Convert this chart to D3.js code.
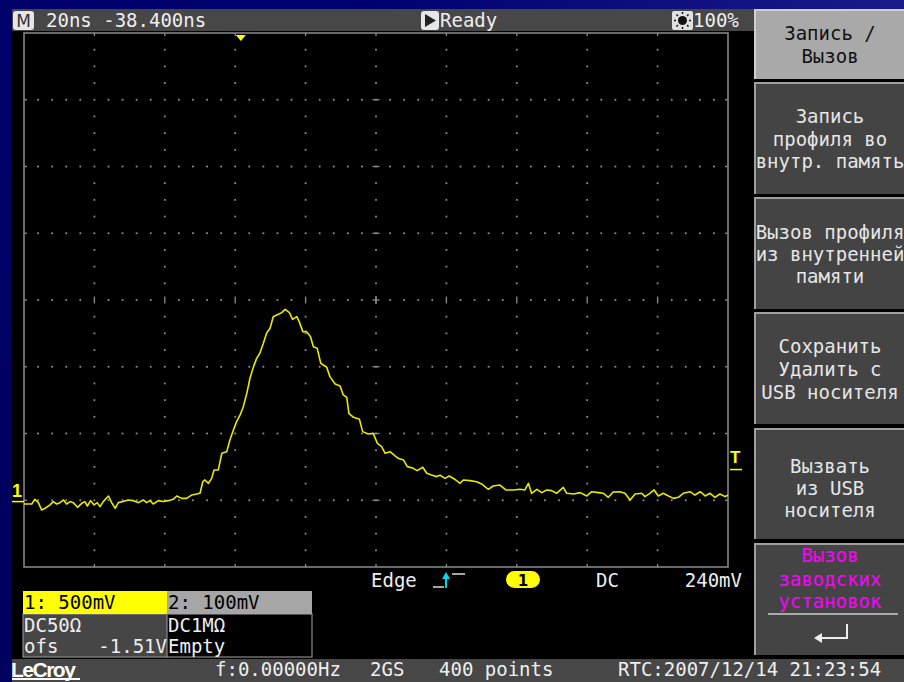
<html>
<head>
    <meta charset="utf-8">
    <title>LeCroy screen</title>
    <script src="https://cdn.jsdelivr.net/npm/d3@7/dist/d3.min.js"></script>
    <style>
        body { margin: 0; background: #000066; }
        text { font-family: "DejaVu Sans Mono", monospace; font-size: 19px; }
    </style>
</head>
<body>
<script>
var width = 904, height = 682;

// channel 1 trace, time in ns and volts
var timeNs = [-61.6,-59.4,-58.5,-57.5,-56.6,-55.6,-54.2,-53.3,-52.3,-51.4,-50.4,-49.5,-48.5,-47.6,-46.4,-45.2,-44.3,-43.6,-42.7,-41.7,
    -40.8,-40.0,-39.1,-37.6,-36.7,-35.7,-34.8,-33.4,-32.0,-30.5,-29.1,-27.7,-26.8,-25.8,-24.9,-23.4,-22.0,-20.6,-19.2,-18.2,
    -16.8,-15.4,-14.0,-12.5,-11.6,-10.8,-10.2,-9.2,-8.3,-7.6,-6.4,-5.4,-4.0,-3.1,-2.1,-1.2,-0.2,0.7,1.7,2.6,
    3.6,4.5,5.4,6.4,7.3,8.3,9.2,10.2,11.6,12.6,
    13.8,14.7,15.9,16.6,17.6,18.7,19.8,20.6,21.7,22.7,24.4,25.3,26.8,28.2,29.1,30.1,30.7,32.0,33.7,34.6,
    36.2,37.6,38.8,40.0,41.0,42.4,43.8,44.7,46.2,47.3,49.0,50.1,51.7,52.8,54.2,55.6,56.6,58.0,59.2,60.8,
    62.3,63.2,65.1,67.0,68.4,70.3,71.7,73.6,75.3,77.4,79.3,80.7,81.7,82.6,84.1,85.5,86.9,88.3,89.7,91.6,
    92.6,94.5,96.4,98.3,99.7,101.6,103.0,104.4,105.8,107.7,109.1,110.6,112.0,113.9,114.8,116.2,117.4,118.6,120.0,121.5,
    122.9,124.3,125.7,127.6,129.0,130.5,131.9,133.3,134.7,136.1,137.6,138.4];
var volts = [-0.018,-0.018,0.017,-0.008,-0.063,-0.050,-0.025,0.0,-0.018,-0.008,0.012,-0.018,0.0,-0.008,-0.043,-0.013,0.0,-0.033,0.007,-0.025,
    -0.008,-0.038,0.0,0.042,-0.008,-0.050,-0.008,0.0,0.012,0.007,-0.008,0.012,-0.008,0.007,-0.018,0.007,0.0,0.007,0.017,0.042,
    0.024,0.024,0.049,0.057,0.062,0.149,0.162,0.137,0.174,0.237,0.237,0.362,0.374,0.461,0.536,0.599,0.649,0.711,0.811,0.924,
    1.011,1.073,1.111,1.186,1.261,1.298,1.385,1.398,1.415,1.440,
    1.415,1.365,1.385,1.348,1.273,1.273,1.235,1.160,1.148,1.036,1.006,0.936,0.881,0.866,0.799,0.781,0.661,0.631,0.616,0.524,
    0.506,0.511,0.436,0.411,0.362,0.374,0.342,0.324,0.312,0.262,0.249,0.232,0.257,0.212,0.199,0.187,0.197,0.174,0.192,0.167,
    0.137,0.162,0.157,0.149,0.132,0.092,0.117,0.124,0.087,0.087,0.092,0.087,0.137,0.062,0.092,0.067,0.087,0.082,0.062,0.107,
    0.062,0.057,0.067,0.042,0.074,0.067,0.062,0.032,0.072,0.074,0.062,0.012,0.057,0.062,0.037,0.062,0.087,0.042,0.062,0.042,
    0.024,0.032,0.062,0.074,0.049,0.074,0.042,0.062,0.032,0.057,0.037,0.049];

var timePerDiv = 20, voltsPerDiv = 0.5, delayNs = -38.4, offsetV = -1.51, trigLevel = 0.24;
var xDivs = 10, yDivs = 8;

var menuItems = [
    ["Запись /", "Вызов"],
    ["Запись", "профиля во", "внутр. память"],
    ["Вызов профиля", "из внутренней", "памяти"],
    ["Сохранить", "Удалить с", "USB носителя"],
    ["Вызвать", "из USB", "носителя"],
    ["Вызов", "заводских", "установок"]
];
var chanHeaders = ["1: 500mV", "2: 100mV"];
var chanCoupling = ["DC50Ω", "DC1MΩ"];

var svg = d3.select("body").append("svg")
    .attr("width", width).attr("height", height);

var defs = svg.append("defs");
var grad = defs.append("linearGradient").attr("id", "bg")
    .attr("x1", "0").attr("y1", "1").attr("x2", "1").attr("y2", "0");
grad.append("stop").attr("offset", "0").attr("stop-color", "#00005e");
grad.append("stop").attr("offset", "0.7").attr("stop-color", "#000070");
grad.append("stop").attr("offset", "1").attr("stop-color", "#1a1a8c");
svg.append("rect").attr("width", width).attr("height", height).attr("fill", "url(#bg)");

// screen
svg.append("rect").attr("x", 12).attr("y", 9).attr("width", 892).attr("height", 673).attr("fill", "#000");
svg.append("rect").attr("x", 12).attr("y", 9).attr("width", 742).attr("height", 22).attr("fill", "#474747");
svg.append("rect").attr("x", 12).attr("y", 659).attr("width", 892).attr("height", 23).attr("fill", "#474747");

// scales: trigger sits delayNs left of screen centre, ground sits offsetV below centre
var plotL = 24, plotR = 728, plotT = 33, plotB = 567;
var tLeft = -(xDivs / 2) * timePerDiv - delayNs;
var x = d3.scaleLinear().domain([tLeft, tLeft + xDivs * timePerDiv]).range([plotL, plotR]);
var vCenter = -offsetV;
var y = d3.scaleLinear().domain([vCenter - voltsPerDiv * yDivs / 2, vCenter + voltsPerDiv * yDivs / 2]).range([plotB, plotT]);
var dx = d3.scaleLinear().domain([0, xDivs]).range([plotL, plotR]);
var dy = d3.scaleLinear().domain([0, yDivs]).range([plotT, plotB]);

// graticule
var grid = svg.append("g").attr("fill", "#8c8c8c");
d3.range(1, yDivs).forEach(function(j) {
    d3.range(1, xDivs * 5).forEach(function(k) {
        if (j == yDivs / 2 && k % 5 == 0) return;
        grid.append("rect").attr("x", dx(k / 5) - 0.9).attr("y", dy(j) - 0.9).attr("width", 1.8).attr("height", 1.8);
    });
});
d3.range(1, xDivs).forEach(function(i) {
    d3.range(1, yDivs * 4).forEach(function(m) {
        if (m % 4 == 0) return;
        grid.append("rect").attr("x", dx(i) - 0.9).attr("y", dy(m / 4) - 0.9).attr("width", 1.8).attr("height", 1.8);
    });
});
var ticks = svg.append("g").attr("stroke", "#8c8c8c").attr("stroke-width", 1.3);
d3.range(1, xDivs).forEach(function(i) {
    ticks.append("line").attr("x1", dx(i)).attr("x2", dx(i)).attr("y1", dy(4) - 3.5).attr("y2", dy(4) + 3.5);
    ticks.append("line").attr("x1", dx(i)).attr("x2", dx(i)).attr("y1", plotT).attr("y2", plotT + 3);
    ticks.append("line").attr("x1", dx(i)).attr("x2", dx(i)).attr("y1", plotB).attr("y2", plotB - 3);
});
d3.range(1, yDivs).forEach(function(j) {
    ticks.append("line").attr("x1", dx(5) - 3.5).attr("x2", dx(5) + 3.5).attr("y1", dy(j)).attr("y2", dy(j));
    ticks.append("line").attr("x1", plotL).attr("x2", plotL + 3).attr("y1", dy(j)).attr("y2", dy(j));
    ticks.append("line").attr("x1", plotR).attr("x2", plotR - 3).attr("y1", dy(j)).attr("y2", dy(j));
});
ticks.append("line").attr("x1", dx(5)).attr("x2", dx(5)).attr("y1", dy(4) - 4).attr("y2", dy(4) + 4);
svg.append("rect").attr("x", plotL).attr("y", plotT).attr("width", plotR - plotL).attr("height", plotB - plotT)
    .attr("fill", "none").attr("stroke", "#8c8c8c").attr("stroke-width", 1.5);

// trace
var trace = d3.zip(timeNs, volts);
svg.append("path").datum(trace)
    .attr("fill", "none").attr("stroke", "#e8e800").attr("stroke-width", 1.6)
    .attr("stroke-linejoin", "round")
    .attr("d", d3.line().x(function(d) { return x(d[0]); }).y(function(d) { return y(d[1]); }));

// markers
var yellow = "#ffff00";
svg.append("text").attr("x", 12).attr("y", y(0) - 5).attr("fill", yellow)
    .style("font-family", "Liberation Sans, sans-serif").style("font-weight", "bold").style("font-size", "18px").text("1");
svg.append("line").attr("x1", 12).attr("x2", plotL).attr("y1", y(0)).attr("y2", y(0)).attr("stroke", yellow).attr("stroke-width", 1.5);
svg.append("text").attr("x", 730).attr("y", y(trigLevel) - 7).attr("fill", yellow)
    .style("font-family", "Liberation Sans, sans-serif").style("font-weight", "bold").style("font-size", "17px").text("T");
svg.append("line").attr("x1", 730).attr("x2", 742).attr("y1", y(trigLevel)).attr("y2", y(trigLevel)).attr("stroke", yellow).attr("stroke-width", 1.5);
svg.append("path").attr("fill", yellow)
    .attr("d", "M" + (x(0) - 5) + "," + (plotT + 2) + "h10l-5,6z");

// top status bar
svg.append("rect").attr("x", 13).attr("y", 11).attr("width", 21).attr("height", 19).attr("rx", 3).attr("fill", "#e6e6e6");
svg.append("text").attr("x", 23.5).attr("y", 27).attr("text-anchor", "middle").attr("fill", "#333")
    .style("font-family", "DejaVu Sans, sans-serif").style("font-size", "17px").text("M");
svg.append("text").attr("x", 46).attr("y", 27).attr("fill", "#eee").text(timePerDiv + "ns " + delayNs.toFixed(3) + "ns");
svg.append("rect").attr("x", 421).attr("y", 11).attr("width", 18).attr("height", 19).attr("rx", 3).attr("fill", "#e6e6e6");
svg.append("path").attr("d", "M425,14L436,20.5L425,27z").attr("fill", "#222");
svg.append("text").attr("x", 440).attr("y", 27).attr("fill", "#eee").text("Ready");
svg.append("rect").attr("x", 672).attr("y", 11).attr("width", 21).attr("height", 19).attr("rx", 2).attr("fill", "#e0e0e0");
svg.append("circle").attr("cx", 682.5).attr("cy", 20.5).attr("r", 4.5).attr("fill", "#111");
var sun = svg.append("g").attr("stroke", "#111").attr("stroke-width", 1.5);
d3.range(8).forEach(function(k) {
    var a = k * Math.PI / 4;
    sun.append("line").attr("x1", 682.5 + 6.5 * Math.cos(a)).attr("y1", 20.5 + 6.5 * Math.sin(a))
        .attr("x2", 682.5 + 8.5 * Math.cos(a)).attr("y2", 20.5 + 8.5 * Math.sin(a));
});
svg.append("text").attr("x", 693).attr("y", 27).attr("fill", "#eee").text("100%");

// trigger line
svg.append("text").attr("x", 371).attr("y", 587).attr("fill", "#eee").text("Edge");
svg.append("path").attr("d", "M433,587H444").attr("stroke", "#ddd").attr("stroke-width", 1.5);
svg.append("path").attr("d", "M446,587V574M452,574H465").attr("stroke", "#ddd").attr("stroke-width", 1.5);
svg.append("path").attr("d", "M446,572l-4,7h8z").attr("fill", "#00d8e8");
svg.append("path").attr("d", "M446,576V588").attr("stroke", "#00d8e8").attr("stroke-width", 2);
svg.append("rect").attr("x", 506).attr("y", 571).attr("width", 34).attr("height", 17).attr("rx", 8.5).attr("fill", yellow);
svg.append("text").attr("x", 523).attr("y", 586).attr("text-anchor", "middle").attr("fill", "#000")
    .style("font-family", "DejaVu Sans, sans-serif").style("font-weight", "bold").style("font-size", "15px").text("1");
svg.append("text").attr("x", 596).attr("y", 587).attr("fill", "#eee").text("DC");
svg.append("text").attr("x", 742).attr("y", 587).attr("text-anchor", "end").attr("fill", "#eee").text((trigLevel * 1000) + "mV");

// channel boxes
var boxX = [23, 167], boxW = 145;
boxX.forEach(function(bx, i) {
    svg.append("rect").attr("x", bx).attr("y", 614).attr("width", boxW).attr("height", 43)
        .attr("fill", i == 0 ? "#464646" : "#000").attr("stroke", "#8a8a8a").attr("stroke-width", 1.2);
    svg.append("rect").attr("x", bx).attr("y", 591).attr("width", boxW).attr("height", 23)
        .attr("fill", i == 0 ? yellow : "#a6a6a6");
    svg.append("text").attr("x", bx + 1).attr("y", 609).attr("fill", "#000").text(chanHeaders[i]);
    svg.append("text").attr("x", bx + 1).attr("y", 632).attr("fill", "#eee").text(chanCoupling[i]);
});
svg.append("text").attr("x", 24).attr("y", 653).attr("fill", "#eee").text("ofs");
svg.append("text").attr("x", 167).attr("y", 653).attr("text-anchor", "end").attr("fill", "#eee").text(offsetV.toFixed(2) + "V");
svg.append("text").attr("x", 168).attr("y", 653).attr("fill", "#eee").text("Empty");

// bottom status bar
svg.append("text").attr("x", 11).attr("y", 677).attr("fill", "#fff")
    .style("font-family", "Liberation Sans, sans-serif").style("font-weight", "bold").style("font-size", "21px")
    .style("letter-spacing", "-1.5px").text("LeCroy");
svg.append("rect").attr("x", 12).attr("y", 678).attr("width", 68).attr("height", 2).attr("fill", "#fff");
svg.append("text").attr("x", 215).attr("y", 676).attr("fill", "#eee").text("f:0.00000Hz");
svg.append("text").attr("x", 370).attr("y", 676).attr("fill", "#eee").text("2GS");
svg.append("text").attr("x", 439).attr("y", 676).attr("fill", "#eee").text("400 points");
svg.append("text").attr("x", 618).attr("y", 676).attr("fill", "#eee").text("RTC:2007/12/14 21:23:54");

// soft-key menu
var btnTop = [9, 82, 197, 312, 428, 543], btnBot = [79, 194, 309, 424, 539, 655];
var lineBase = [[40, 63], [123, 146, 168], [239, 261, 283], [353, 376, 399], [473, 495, 517], [562, 586, 608]];
menuItems.forEach(function(lines, i) {
    var first = i == 0;
    svg.append("rect").attr("x", 754).attr("y", btnTop[i]).attr("width", 150).attr("height", btnBot[i] - btnTop[i])
        .attr("fill", first ? "#a9a9a9" : "#444");
    svg.append("path").attr("d", "M755," + btnBot[i] + "V" + (btnTop[i] + 1) + "H904")
        .attr("fill", "none").attr("stroke", first ? "#d0d0d0" : "#a0a0a0").attr("stroke-width", 2);
    lines.forEach(function(s, k) {
        svg.append("text").attr("x", 830).attr("y", lineBase[i][k]).attr("text-anchor", "middle")
            .attr("fill", first ? "#111" : (i == 5 ? "#ff00ff" : "#e6e6e6")).text(s);
    });
});
svg.append("line").attr("x1", 768).attr("x2", 898).attr("y1", 614).attr("y2", 614).attr("stroke", "#ccc").attr("stroke-width", 1.5);
svg.append("path").attr("d", "M847,624V638H820").attr("fill", "none").attr("stroke", "#eee").attr("stroke-width", 2);
svg.append("path").attr("d", "M814,638l8,-5v10z").attr("fill", "#eee");
</script>
</body>
</html>
